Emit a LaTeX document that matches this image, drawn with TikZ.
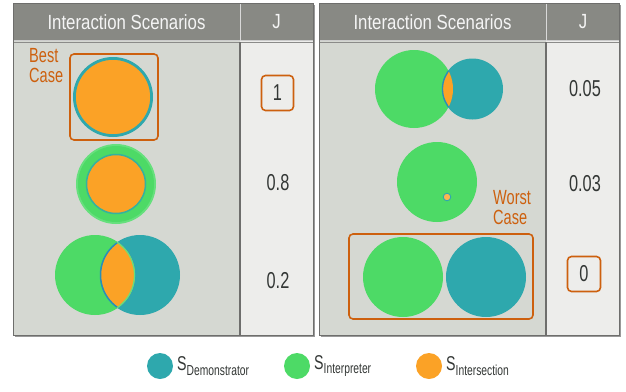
\documentclass[tikz,border=0pt]{standalone}
\usepackage{fontspec}
\setmainfont{Liberation Sans}[FakeStretch=0.82]
\newfontfamily\tallfont{Liberation Sans}[FakeStretch=0.71]
\definecolor{hdr}{HTML}{888984}
\definecolor{scen}{HTML}{D5D8D2}
\definecolor{jcol}{HTML}{EDEDEB}
\definecolor{frame}{HTML}{6E6E6C}
\definecolor{sorange}{HTML}{FBA226}
\definecolor{sgreen}{HTML}{4DDA66}
\definecolor{sgreenedge}{HTML}{66E07D}
\definecolor{steal}{HTML}{2EA8AD}
\definecolor{rust}{HTML}{CD600E}
\definecolor{ink}{HTML}{333735}
\tikzset{
  hdrtext/.style={text=white!96!black, inner sep=0pt, font=\fontsize{20.5}{20.5}\selectfont},
  jval/.style={text=ink, inner sep=0pt, font=\tallfont\fontsize{23}{23}\selectfont},
  casetext/.style={text=rust, inner sep=0pt, anchor=north west, align=left, font=\tallfont\fontsize{20.5}{20}\selectfont},
  hilite/.style={draw=rust, line width=1.6pt, rounded corners=4pt},
  legtext/.style={text=ink, inner sep=0pt, anchor=west, font=\tallfont\fontsize{20}{20}\selectfont},
}
\newcommand{\legsub}[1]{{\fontsize{14.5}{14.5}\selectfont\raisebox{-4.5pt}{#1}}}

\begin{document}
\begin{tikzpicture}[x=1pt,y=-1pt]
    \useasboundingbox (0,0) rectangle (626,391);
    \foreach \ox in {13,319}{
      \fill[black!40] (\ox+1.5,4.5) rectangle (\ox+301.5,336.5);
      \fill[scen] (\ox,41) rectangle (\ox+227,335);
      \fill[jcol] (\ox+227,41) rectangle (\ox+300,335);
      \fill[hdr] (\ox,3) rectangle (\ox+300,41);
      \draw[white!80!black, line width=1pt] (\ox,40.5)--(\ox+300,40.5);
      \draw[frame!80, line width=0.6pt] (\ox,42)--(\ox+300,42);
      \draw[white!85!black, line width=1pt] (\ox+227,3)--(\ox+227,41);
      \draw[frame, line width=1.3pt] (\ox+227,42)--(\ox+227,335);
      \draw[frame, line width=1pt] (\ox,3) rectangle (\ox+300,335);
    }
    \node[hdrtext] (scenL) at (126.5,22) {Interaction Scenarios};
    \node[hdrtext] (jL) at (276.5,22) {J};
    \node[hdrtext] (scenR) at (432.5,22) {Interaction Scenarios};
    \node[hdrtext] (jR) at (583,22) {J};

    \begin{scope}
      \draw[hilite] (70,54) rectangle (158,140);
      \node[casetext] (best) at (29,48) {Best\\Case};
      \filldraw[fill=sorange, draw=steal, line width=2.8pt] (113,97) circle (38.6);
      \fill[sgreenedge] (116,184) circle (40);
      \fill[sgreen] (116,184) circle (38);
      \filldraw[fill=sorange, draw=steal!80!sgreen, line width=1.5pt] (116,184) circle (29.5);
      \fill[sgreen] (95,275) circle (40);
      \fill[steal] (140,275) circle (40);
      \begin{scope}
        \clip (95,275) circle (40);
        \filldraw[fill=sorange, draw=steal!85!blue, line width=1.5pt] (140,275) circle (39.5);
      \end{scope}
      \begin{scope}
        \clip (140,275) circle (40);
        \draw[sgreenedge, line width=1.2pt] (95,275) circle (39.5);
      \end{scope}
    \end{scope}
    \node[hilite, jval, minimum width=32pt, minimum height=35pt] (jone) at (277.5,93) {1};
    \node[jval] (jeight) at (278,183) {0.8};
    \node[jval] (jtwo) at (278,281) {0.2};

    \begin{scope}
      \fill[sgreen] (414,89) circle (39);
      \fill[steal] (472.5,89) circle (30.5);
      \begin{scope}
        \clip (414,89) circle (39);
        \filldraw[fill=sorange, draw=steal!85!blue, line width=1.3pt] (472.5,89) circle (30);
      \end{scope}
      \fill[sgreen] (437,182) circle (40);
      \filldraw[fill=sorange!80!white, draw=steal, line width=0.9pt] (447,197) circle (3.8);
      \node[casetext] (worst) at (493,190) {Worst\\Case};
      \draw[hilite] (349,234) rectangle (533,319);
      \fill[sgreen] (403,277) circle (40);
      \fill[steal] (486,277) circle (40);
    \end{scope}
    \node[jval] (jfive) at (585,89) {0.05};
    \node[jval] (jthree) at (585,184) {0.03};
    \node[hilite, jval, minimum width=33pt, minimum height=35pt] (jzero) at (584,274) {0};

    \fill[steal] (160,366) circle (13);
    \node[legtext] (legD) at (177,366) {S\legsub{Demonstrator}};
    \fill[sgreen] (297,366) circle (13);
    \node[legtext] (legP) at (314,366) {S\legsub{Interpreter}};
    \fill[sorange] (429,366) circle (13);
    \node[legtext] (legI) at (446,366) {S\legsub{Intersection}};
  \end{tikzpicture}
\end{document}
